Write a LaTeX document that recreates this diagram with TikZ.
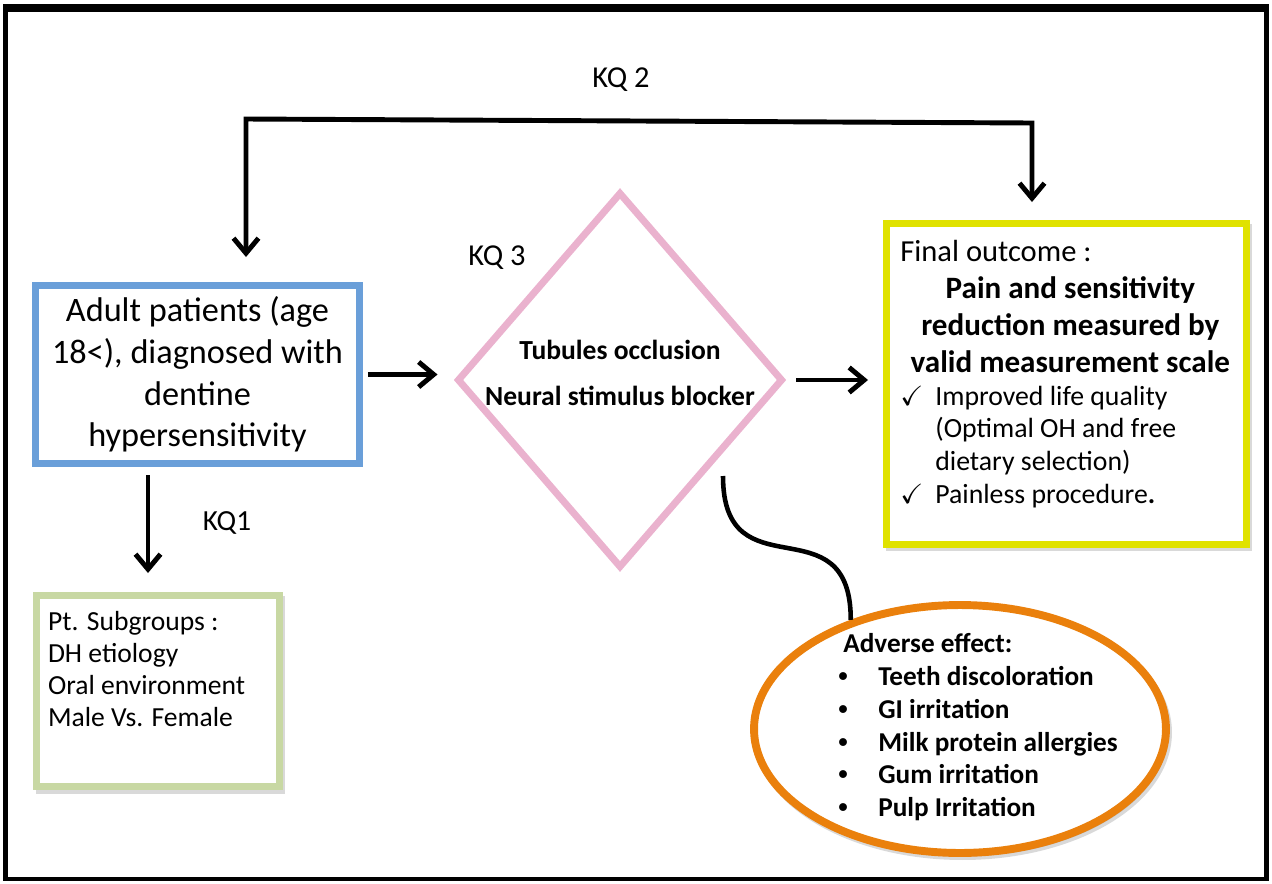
\documentclass[tikz,border=0pt]{standalone}
\usepackage{fontspec}
\setmainfont{Carlito}
\newfontfamily\dotfont{Liberation Sans}
\usepackage{amssymb}
\usetikzlibrary{arrows.meta,shapes.geometric,shadows,calc}

\begin{document}
\begin{tikzpicture}[x=0.02cm,y=-0.02cm,
  barb/.tip={Straight Barb[length=0.3cm,width=0.5cm]},
  flow/.style={line width=2.8pt,-barb},
  box/.style={draw,fill=white,line width=4pt,inner sep=0pt},
  boxshadow/.style={drop shadow={shadow xshift=0.05cm,shadow yshift=-0.07cm,
      opacity=0.3,fill=black!50,draw=black!50,line width=4pt}}]
% ------------------------------------------------ theme colors
\definecolor{dh_blue}{RGB}{106,159,217}
\definecolor{dh_green}{RGB}{200,216,163}
\definecolor{dh_yellow}{RGB}{224,226,0}
\definecolor{dh_pink}{RGB}{234,178,206}
\definecolor{dh_orange}{RGB}{234,128,12}

% ------------------------------------------------ frame
\useasboundingbox (0,0) rectangle (1272,883);
\draw[line width=2.8pt] (5.5,8) rectangle (1266.5,879);
\fill (3,4) rectangle (1269,12);

% ------------------------------------------------ boxes
\node[box,draw=dh_blue,minimum width=6.48cm,minimum height=3.56cm,align=center,
      font=\fontsize{19.5}{23.8}\selectfont] (patients) at (197.5,374.5)
      {Adult patients (age\\18<), diagnosed with\\dentine\\hypersensitivity};

\node[box,draw=dh_green,boxshadow,minimum width=4.86cm,minimum height=3.82cm,
      font=\fontsize{15.7}{18.2}\selectfont] (subgroups) at (158,691)
      {\parbox[c][3.2cm][t]{4.4cm}{Pt. Subgroups :\\DH etiology\\Oral environment\\Male Vs. Female}};

\node[diamond,draw=dh_pink,line width=4pt,minimum width=6.52cm,minimum height=7.52cm,
      inner sep=0pt] (therapy) at (620,380) {};
\node[align=center,font=\bfseries\fontsize{15.7}{26}\selectfont] (therapy text)
      at ([yshift=0.14cm]therapy.center) {Tubules occlusion\\Neural stimulus blocker};

\node[box,draw=dh_yellow,boxshadow,minimum width=7.2cm,minimum height=6.42cm] (outcome) at (1066.5,384) {};
\node[anchor=north west,inner sep=0pt] (outcome text) at ([xshift=0.34cm,yshift=-0.4cm]outcome.north west)
{\begin{minipage}{6.8cm}
{\fontsize{17.4}{21}\selectfont Final outcome :\par}
{\centering\bfseries\fontsize{17.7}{21}\selectfont Pain and sensitivity\\reduction measured by\\valid measurement scale\par}
{\fontsize{15.8}{18.7}\selectfont
\hangindent=0.7cm\noindent\makebox[0.7cm][l]{$\checkmark$}Improved life quality\\(Optimal OH and free\\dietary selection)\par
\hangindent=0.7cm\noindent\makebox[0.7cm][l]{$\checkmark$}Painless procedure\textbf{.}\par}
\end{minipage}};

\node[ellipse,draw=dh_orange,line width=4.5pt,fill=white,boxshadow,minimum width=8.24cm,
      minimum height=4.96cm,inner sep=0pt] (adverse) at (960,729) {};
\node[anchor=north west,align=left,inner sep=0pt,font=\bfseries\fontsize{15.5}{18.7}\selectfont]
      (adverse text) at (838,633)
      {\hspace*{0.1cm}Adverse effect:\\
       \makebox[0.8cm][l]{\dotfont\textbullet}Teeth discoloration\\
       \makebox[0.8cm][l]{\dotfont\textbullet}GI irritation\\
       \makebox[0.8cm][l]{\dotfont\textbullet}Milk protein allergies\\
       \makebox[0.8cm][l]{\dotfont\textbullet}Gum irritation\\
       \makebox[0.8cm][l]{\dotfont\textbullet}Pulp Irritation};

% ------------------------------------------------ key question labels
\node[font=\fontsize{17.3}{20}\selectfont] (kq2) at (621,80) {KQ 2};
\node[font=\fontsize{17.3}{20}\selectfont] (kq3) at (497,258) {KQ 3};
\node[font=\fontsize{16.6}{20}\selectfont] (kq1) at (227,523) {KQ1};

% ------------------------------------------------ connectors
\coordinate (kq2 west) at (246,119);
\coordinate (kq2 east) at (1032,123);
\coordinate (kq1 x) at (148,0);
\coordinate (side) at (723,476);

\draw[flow,barb-barb,shorten <=0.5cm,shorten >=0.36cm]
     (kq2 west |- patients.north) -- (kq2 west) -- (kq2 east) -- (kq2 east |- outcome.north);
\draw[flow,shorten <=0.1cm,shorten >=0.32cm] (patients.east) -- (patients.east -| therapy.west);
\draw[flow,shorten <=0.2cm,shorten >=0.3cm] (therapy.east) -- (therapy.east -| outcome.west);
\draw[flow,shorten <=0.16cm,shorten >=0.38cm] (kq1 x |- patients.south) -- (kq1 x |- subgroups.north);

\draw[line width=2.6pt] (side) .. controls ($(side)+(0,120)$) and ($(adverse.135)+(0,-120)$) .. (adverse.135);

\end{tikzpicture}
\end{document}
